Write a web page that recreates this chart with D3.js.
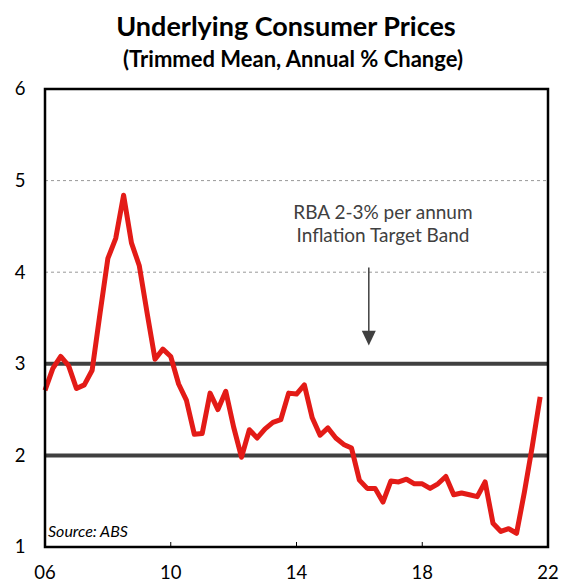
<!DOCTYPE html>
<html>
<head>
<meta charset="utf-8">
<script src="https://cdn.jsdelivr.net/npm/d3@7"></script>
<style>
  body { margin: 0; background: #fff; }
  svg text { font-family: Lato, "Open Sans", sans-serif; }
</style>
</head>
<body>
<div id="vis"></div>
<script>
const W = 564, H = 583;
const margin = { top: 89, right: 16, bottom: 36, left: 45 };
const width = W - margin.left - margin.right;
const height = H - margin.top - margin.bottom;

// quarterly, 2006 Q1 .. 2021 Q4
const quarters = [
  "2006Q1", "2006Q2", "2006Q3", "2006Q4",
  "2007Q1", "2007Q2", "2007Q3", "2007Q4",
  "2008Q1", "2008Q2", "2008Q3", "2008Q4",
  "2009Q1", "2009Q2", "2009Q3", "2009Q4",
  "2010Q1", "2010Q2", "2010Q3", "2010Q4",
  "2011Q1", "2011Q2", "2011Q3", "2011Q4",
  "2012Q1", "2012Q2", "2012Q3", "2012Q4",
  "2013Q1", "2013Q2", "2013Q3", "2013Q4",
  "2014Q1", "2014Q2", "2014Q3", "2014Q4",
  "2015Q1", "2015Q2", "2015Q3", "2015Q4",
  "2016Q1", "2016Q2", "2016Q3", "2016Q4",
  "2017Q1", "2017Q2", "2017Q3", "2017Q4",
  "2018Q1", "2018Q2", "2018Q3", "2018Q4",
  "2019Q1", "2019Q2", "2019Q3", "2019Q4",
  "2020Q1", "2020Q2", "2020Q3", "2020Q4",
  "2021Q1", "2021Q2", "2021Q3", "2021Q4",
];

const trimmedMean = [
  2.71, 2.95, 3.08, 2.98,
  2.73, 2.77, 2.93, 3.55,
  4.15, 4.37, 4.84, 4.32,
  4.07, 3.55, 3.05, 3.16,
  3.08, 2.78, 2.6, 2.23,
  2.24, 2.68, 2.5, 2.7,
  2.31, 1.98, 2.28, 2.19,
  2.29, 2.36, 2.39, 2.68,
  2.67, 2.77, 2.41, 2.22,
  2.3, 2.19, 2.12, 2.08,
  1.73, 1.64, 1.64, 1.49,
  1.72, 1.71, 1.74, 1.69,
  1.69, 1.64, 1.69, 1.77,
  1.57, 1.59, 1.57, 1.55,
  1.71, 1.26, 1.17, 1.2,
  1.15, 1.6, 2.1, 2.64,
];

const yTicks = [1, 2, 3, 4, 5, 6];
const xTicks = [2006, 2010, 2014, 2018, 2022];
const xTickLabels = ["06", "10", "14", "18", "22"];
const dashedLevels = [4, 5];
const targetBand = [2, 3];

function quarterToYear(q) {
  return +q.slice(0, 4) + (+q.slice(5) - 1) / 4;
}

const svg = d3.select("#vis").append("svg")
  .attr("width", W)
  .attr("height", H);

svg.append("text")
  .attr("x", 286)
  .attr("y", 36)
  .attr("text-anchor", "middle")
  .style("font-size", "27px")
  .style("font-weight", "bold")
  .text("Underlying Consumer Prices");

svg.append("text")
  .attr("x", 293)
  .attr("y", 67)
  .attr("text-anchor", "middle")
  .style("font-size", "22px")
  .style("font-weight", "bold")
  .text("(Trimmed Mean, Annual % Change)");

const g = svg.append("g")
  .attr("transform", `translate(${margin.left},${margin.top})`);

const x = d3.scaleLinear().domain([2006, 2022]).range([0, width]);
const y = d3.scaleLinear().domain([1, 6]).range([height, 0]);

// dashed gridlines
g.selectAll(".grid")
  .data(dashedLevels)
  .enter()
  .append("line")
  .attr("x1", 0)
  .attr("x2", width)
  .attr("y1", (d) => y(d))
  .attr("y2", (d) => y(d))
  .attr("stroke", "#999")
  .attr("stroke-width", 1)
  .attr("stroke-dasharray", "3,3");

// annotation
const noteX = x(2016.75);
const note = g.append("text")
  .attr("text-anchor", "middle")
  .style("font-size", "19px")
  .attr("fill", "#404040");
note.append("tspan").attr("x", noteX).attr("y", 219 - margin.top).text("RBA 2-3% per annum");
note.append("tspan").attr("x", noteX).attr("y", 242 - margin.top).text("Inflation Target Band");

const ax = x(2016.3);
g.append("line")
  .attr("x1", ax).attr("x2", ax)
  .attr("y1", y(4.05)).attr("y2", y(3.3))
  .attr("stroke", "#404040")
  .attr("stroke-width", 1.5);
g.append("path")
  .attr("d", `M${ax - 7},${y(3.36)} L${ax + 7},${y(3.36)} L${ax},${y(3.2)} Z`)
  .attr("fill", "#404040");

// target band
g.selectAll(".band")
  .data(targetBand)
  .enter()
  .append("line")
  .attr("x1", 0)
  .attr("x2", width)
  .attr("y1", (d) => y(d))
  .attr("y2", (d) => y(d))
  .attr("stroke", "#404040")
  .attr("stroke-width", 4);

// series
const line = d3.line()
  .x((d, i) => x(quarterToYear(quarters[i])))
  .y((d) => y(d));

g.append("path")
  .datum(trimmedMean)
  .attr("fill", "none")
  .attr("stroke", "#e31b17")
  .attr("stroke-width", 5)
  .attr("stroke-linejoin", "round")
  .attr("d", line);

// x ticks (inside)
g.selectAll(".xtick")
  .data(xTicks.slice(1))
  .enter()
  .append("line")
  .attr("x1", (d) => x(d))
  .attr("x2", (d) => x(d))
  .attr("y1", height)
  .attr("y2", height - 5)
  .attr("stroke", "#000")
  .attr("stroke-width", 1);

// frame
g.append("rect")
  .attr("x", 0)
  .attr("y", 0)
  .attr("width", width)
  .attr("height", height)
  .attr("fill", "none")
  .attr("stroke", "#000")
  .attr("stroke-width", 2.5);

g.selectAll(".xlab")
  .data(xTicks)
  .enter()
  .append("text")
  .attr("x", (d) => x(d))
  .attr("y", height + 32)
  .attr("text-anchor", "middle")
  .style("font-size", "18.5px")
  .text((d, i) => xTickLabels[i]);

g.selectAll(".ylab")
  .data(yTicks)
  .enter()
  .append("text")
  .attr("x", -25)
  .attr("y", (d) => y(d))
  .attr("dy", "0.35em")
  .attr("text-anchor", "middle")
  .style("font-size", "18.5px")
  .text((d) => d);

g.append("text")
  .attr("x", 3)
  .attr("y", height - 10)
  .style("font-size", "16px")
  .style("font-style", "italic")
  .text("Source: ABS");
</script>
</body>
</html>
